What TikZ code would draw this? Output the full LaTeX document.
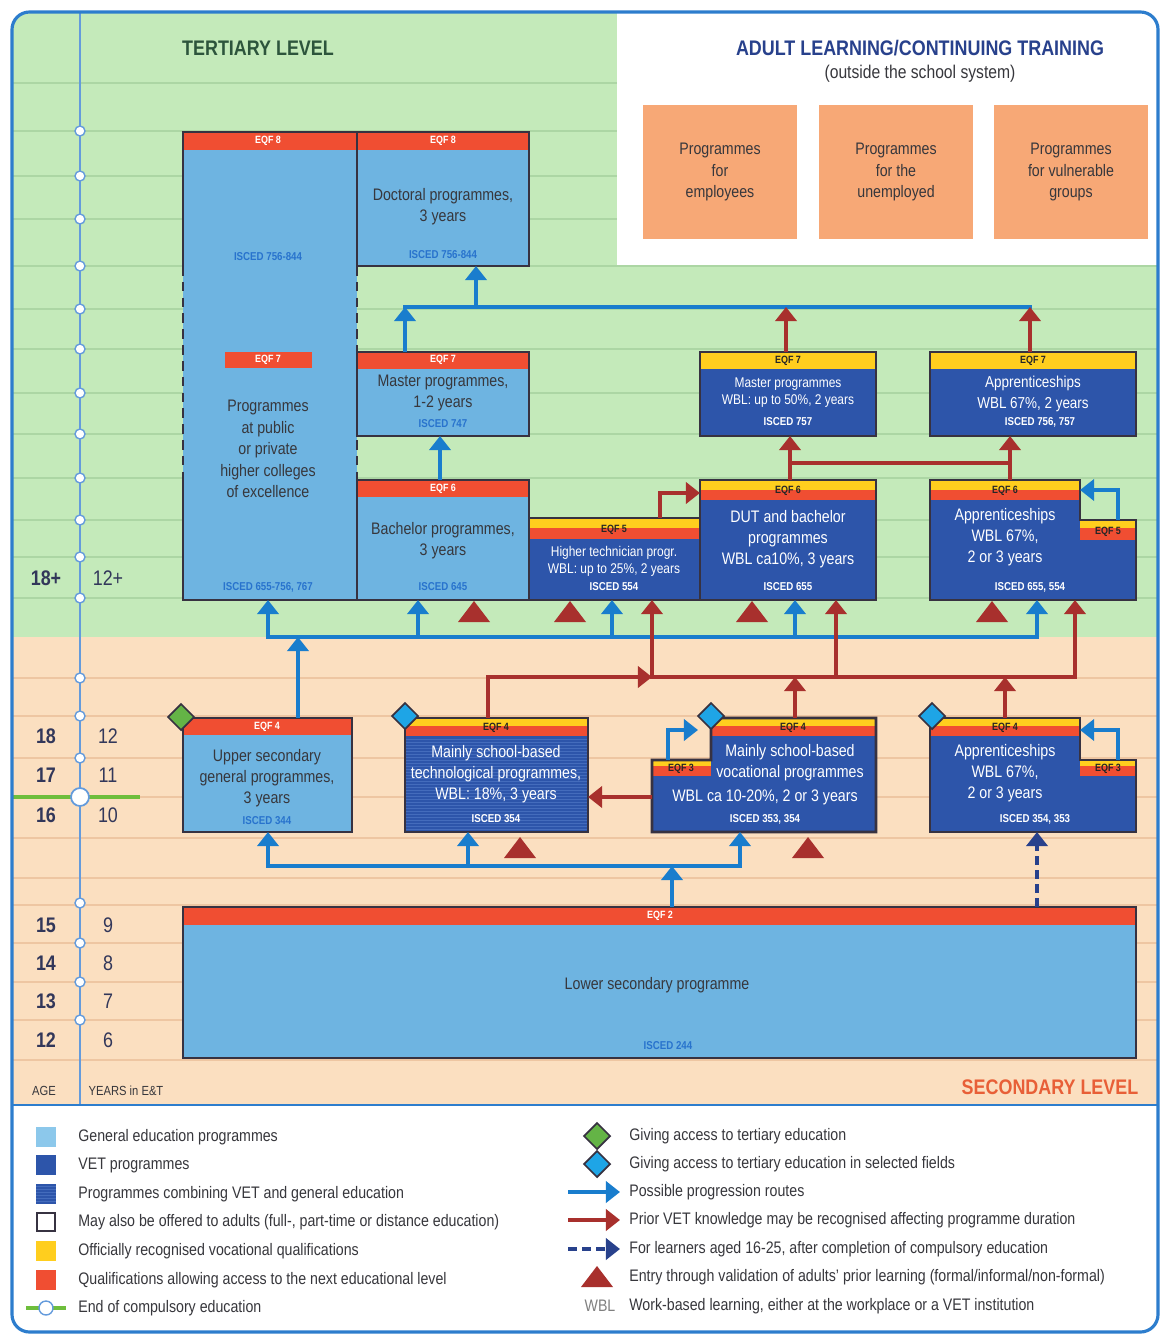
\documentclass[tikz,border=0pt]{standalone}
\usepackage{fontspec}
\setmainfont{Liberation Sans}[FakeStretch=0.85]
\usetikzlibrary{arrows.meta,fit}

\definecolor{tgreen}{RGB}{196,234,186}
\definecolor{speach}{RGB}{251,223,192}
\definecolor{rowgreen}{RGB}{172,214,164}
\definecolor{rowpeach}{RGB}{238,198,162}
\definecolor{genblue}{RGB}{110,180,225}
\definecolor{vetblue}{RGB}{45,85,170}
\definecolor{stripebl}{RGB}{68,108,188}
\definecolor{boxdark}{RGB}{55,50,65}
\definecolor{eqfred}{RGB}{240,78,50}
\definecolor{eqfyel}{RGB}{255,206,30}
\definecolor{arrblue}{RGB}{25,125,205}
\definecolor{arrred}{RGB}{168,48,45}
\definecolor{adultor}{RGB}{247,168,118}
\definecolor{framebl}{RGB}{45,125,205}
\definecolor{axisbl}{RGB}{100,155,220}
\definecolor{titgreen}{RGB}{45,85,60}
\definecolor{titblue}{RGB}{40,65,140}
\definecolor{titred}{RGB}{232,95,55}
\definecolor{iscblue}{RGB}{40,115,205}
\definecolor{txtgray}{RGB}{55,55,60}
\definecolor{dgreen}{RGB}{100,180,70}
\definecolor{dblue}{RGB}{30,165,230}
\definecolor{leglight}{RGB}{140,200,235}
\definecolor{complgreen}{RGB}{110,190,60}
\definecolor{agecol}{RGB}{50,55,90}

\tikzset{
  genbox/.style={fill=genblue, inner sep=0pt, outer sep=0pt},
  vetbox/.style={fill=vetblue, inner sep=0pt, outer sep=0pt},
  boxline/.style={draw=boxdark, line width=1.6pt},
  boxtxt/.style={font=\fontsize{9.5}{12}\selectfont, text=txtgray, align=center, inner sep=0pt},
  vettxt/.style={boxtxt, text=white},
  vetsmall/.style={vettxt, font=\fontsize{8}{9.6}\selectfont},
  eqfw/.style={font=\fontsize{6}{7}\selectfont\bfseries, text=white, inner sep=0pt},
  eqfd/.style={eqfw, text=black!85},
  isced/.style={font=\fontsize{6.5}{7}\selectfont\bfseries, text=iscblue, inner sep=0pt},
  iscedw/.style={isced, text=white},
  adultbox/.style={fill=adultor, minimum width=3.08cm, minimum height=2.7cm, align=center,
    font=\fontsize{9.5}{12}\selectfont, text=txtgray},
  agelab/.style={font=\fontsize{12}{14}\selectfont\bfseries, text=agecol},
  yrlab/.style={font=\fontsize{12}{14}\selectfont, text=agecol},
  legtxt/.style={anchor=west, font=\fontsize{9.5}{11}\selectfont, text=txtgray, inner sep=0pt},
  barrow/.style={->, draw=arrblue, line width=2.4pt},
  bline/.style={draw=arrblue, line width=2.4pt, line cap=rect},
  rarrow/.style={->, draw=arrred, line width=2.4pt},
  rline/.style={draw=arrred, line width=2.4pt, line cap=rect},
  darrow/.style={->, draw=titblue, line width=2.4pt, dash pattern=on 5pt off 3pt},
  stripe/.style={draw=stripebl, line width=0.35pt}
}

\begin{document}
\begin{tikzpicture}[x=0.02cm, y=-0.02cm, >={Triangle[length=8pt,width=12pt]}]
\useasboundingbox (0,0) rectangle (1161,1335);

% backgrounds and rows
\begin{scope}
  \clip[rounded corners=0.35cm] (12,12) rectangle (1158,1332);
  \fill[tgreen] (12,12) rectangle (1158,637);
  \fill[speach] (12,637) rectangle (1158,1105);
  \fill[white] (12,1105) rectangle (1158,1332);
  \foreach \y in {83,131,176,219,266,309,349,393,434,478,520,557,598}
    \draw[rowgreen, line width=0.6pt] (12,\y) -- (1158,\y);
  \foreach \y in {678,716,758,797,838,878,905,943,982,1020,1060}
    \draw[rowpeach, line width=0.6pt] (12,\y) -- (1158,\y);
  \fill[white] (617,12) rectangle (1158,265);
\end{scope}

% age axis
\draw[axisbl, line width=1pt] (80,12) -- (80,1105);
\foreach \y in {131,176,219,266,309,349,393,434,478,520,557,598,678,716,758,903,943,982,1020}
  \filldraw[fill=white, draw=axisbl, line width=0.8pt] (80,\y) circle (0.1cm);
\draw[complgreen, line width=2.2pt] (12,797) -- (140,797);
\filldraw[fill=white, draw=axisbl, line width=1pt] (80,797) circle (0.18cm);

\draw[framebl, line width=1.8pt, rounded corners=0.35cm] (12,12) rectangle (1158,1332);
\draw[framebl, line width=1pt] (12,1105) -- (1158,1105);

% titles
\node[font=\fontsize{12}{14}\selectfont\bfseries, text=titgreen] (tert) at (258,48) {TERTIARY LEVEL};
\node[font=\fontsize{12}{14}\selectfont\bfseries, text=titblue] (adult) at (920,48) {ADULT LEARNING/CONTINUING TRAINING};
\node[font=\fontsize{10.5}{12}\selectfont, text=txtgray] (adultsub) at (920,74) {(outside the school system)};
\node[font=\fontsize{12}{14}\selectfont\bfseries, text=titred] (seclev) at (1050,1087) {SECONDARY LEVEL};

\node[adultbox] (adempl) at (720,172) {Programmes\\for\\employees};
\node[adultbox] (adunem) at (896,172) {Programmes\\for the\\unemployed};
\node[adultbox] (advuln) at (1071,172) {Programmes\\for vulnerable\\groups};

% ages and years
\foreach \y/\a/\n in {578/18+/12+, 736/18/12, 775/17/11, 815/16/10, 925/15/9, 963/14/8, 1001/13/7, 1040/12/6}{
  \node[agelab] (age\y) at (46,\y) {\a};
  \node[yrlab] (yr\y) at (108,\y) {\n};
}
\node[font=\fontsize{7.5}{9}\selectfont, text=txtgray] (agehd) at (44,1091) {AGE};
\node[font=\fontsize{7.5}{9}\selectfont, text=txtgray] (yrhd) at (126,1091) {YEARS in E\&T};

% tertiary boxes
\node[genbox, fit={(183,132) (357,600)}] (hcol) {};
\node[genbox, fit={(357,132) (529,266)}] (doct) {};
\node[genbox, fit={(357,352) (529,436)}] (mastg) {};
\node[genbox, fit={(357,480) (529,600)}] (bach) {};
\node[vetbox, fit={(529,518) (700,600)}] (htech) {};
\node[vetbox, fit={(700,480) (876,600)}] (dut) {};
\node[vetbox, fit={(700,352) (876,436)}] (mastv) {};
\node[vetbox, fit={(930,352) (1136,436)}] (appr7) {};
\node[vetbox, fit={(930,480) (1080,600)}] (appr6) {};
\node[vetbox, fit={(1080,520) (1136,600)}] (appr6s) {};

\fill[eqfred] (183,132) rectangle (529,150);
\fill[eqfred] (225,352) rectangle (312,368);
\fill[eqfred] (357,352) rectangle (529,369);
\fill[eqfred] (357,480) rectangle (529,497);
\fill[eqfyel] (529,518) rectangle (700,528);
\fill[eqfred] (529,528) rectangle (700,539);
\fill[eqfyel] (700,480) rectangle (876,490);
\fill[eqfred] (700,490) rectangle (876,500);
\fill[eqfyel] (700,352) rectangle (876,369);
\fill[eqfyel] (930,352) rectangle (1136,369);
\fill[eqfyel] (930,480) rectangle (1080,490);
\fill[eqfred] (930,490) rectangle (1080,500);
\fill[eqfyel] (1080,520) rectangle (1136,528);
\fill[eqfred] (1080,528) rectangle (1136,540);

\node[eqfw] (hcol-q) at (268,141) {EQF 8};
\node[isced] (hcol-i1) at (268,257) {ISCED 756-844};
\node[eqfw] (hcol-q7) at (268,360) {EQF 7};
\node[boxtxt, font=\fontsize{9.5}{12.2}\selectfont] (hcol-t) at (268,449) {Programmes\\at public\\or private\\higher colleges\\of excellence};
\node[isced] (hcol-i2) at (268,587) {ISCED 655-756, 767};

\node[eqfw] (doct-q) at (443,141) {EQF 8};
\node[boxtxt] (doct-t) at (443,207) {Doctoral programmes,\\3 years};
\node[isced] (doct-i) at (443,255) {ISCED 756-844};

\node[eqfw] (mastg-q) at (443,360) {EQF 7};
\node[boxtxt] (mastg-t) at (443,393) {Master programmes,\\1-2 years};
\node[isced] (mastg-i) at (443,424) {ISCED 747};

\node[eqfw] (bach-q) at (443,489) {EQF 6};
\node[boxtxt] (bach-t) at (443,541) {Bachelor programmes,\\3 years};
\node[isced] (bach-i) at (443,587) {ISCED 645};

\node[eqfd] (htech-q) at (614,530) {EQF 5};
\node[vetsmall] (htech-t) at (614,561) {Higher technician progr.\\WBL: up to 25\%, 2 years};
\node[iscedw] (htech-i) at (614,587) {ISCED 554};

\node[eqfd] (dut-q) at (788,491) {EQF 6};
\node[vettxt] (dut-t) at (788,539) {DUT and bachelor\\programmes\\WBL ca10\%, 3 years};
\node[iscedw] (dut-i) at (788,587) {ISCED 655};

\node[eqfd] (mastv-q) at (788,361) {EQF 7};
\node[vetsmall] (mastv-t) at (788,393) {Master programmes\\WBL: up to 50\%, 2 years};
\node[iscedw] (mastv-i) at (788,422) {ISCED 757};

\node[eqfd] (appr7-q) at (1033,361) {EQF 7};
\node[vettxt, font=\fontsize{9}{11.5}\selectfont] (appr7-t) at (1033,394) {Apprenticeships\\WBL 67\%, 2 years};
\node[iscedw] (appr7-i) at (1040,422) {ISCED 756, 757};

\node[eqfd] (appr6-q) at (1005,491) {EQF 6};
\node[eqfd] (appr6-q5) at (1108,532) {EQF 5};
\node[vettxt] (appr6-t) at (1005,537) {Apprenticeships\\WBL 67\%,\\2 or 3 years};
\node[iscedw] (appr6-i) at (1030,587) {ISCED 655, 554};

% secondary boxes
\node[genbox, fit={(183,718) (352,832)}] (upsec) {};
\node[vetbox, fit={(405,718) (588,832)}] (techn) {};
\node[vetbox, fit={(711,718) (876,832)}] (vocm) {};
\node[vetbox, fit={(652,760) (711,832)}] (vocs) {};
\node[vetbox, fit={(930,718) (1080,832)}] (appr4) {};
\node[vetbox, fit={(1080,760) (1136,832)}] (appr4s) {};
\node[genbox, fit={(183,907) (1136,1058)}] (lowsec) {};

\foreach \y in {739,742,...,830}
  \draw[stripe] (405,\y) -- (588,\y);

\fill[eqfred] (183,718) rectangle (352,735);
\foreach \xa/\xb in {405/588, 711/876, 930/1080}{
  \fill[eqfyel] (\xa,718) rectangle (\xb,726);
  \fill[eqfred] (\xa,726) rectangle (\xb,736);
}
\foreach \xa/\xb in {652/711, 1080/1136}{
  \fill[eqfyel] (\xa,760) rectangle (\xb,766);
  \fill[eqfred] (\xa,766) rectangle (\xb,776);
}
\fill[eqfred] (183,907) rectangle (1136,925);

\node[eqfw] (upsec-q) at (267,727) {EQF 4};
\node[boxtxt, font=\fontsize{9.5}{11.8}\selectfont] (upsec-t) at (267,778) {Upper secondary\\general programmes,\\3 years};
\node[isced] (upsec-i) at (267,821) {ISCED 344};

\node[eqfd] (techn-q) at (496,728) {EQF 4};
\node[vettxt] (techn-t) at (496,774) {Mainly school-based\\technological programmes,\\WBL: 18\%, 3 years};
\node[iscedw] (techn-i) at (496,819) {ISCED 354};

\node[eqfd] (voc-q) at (793,728) {EQF 4};
\node[eqfd] (voc-q3) at (681,769) {EQF 3};
\node[vettxt] (voc-t) at (790,763) {Mainly school-based\\vocational programmes};
\node[vettxt] (voc-t2) at (765,797) {WBL ca 10-20\%, 2 or 3 years};
\node[iscedw] (voc-i) at (765,819) {ISCED 353, 354};

\node[eqfd] (appr4-q) at (1005,728) {EQF 4};
\node[eqfd] (appr4-q3) at (1108,769) {EQF 3};
\node[vettxt] (appr4-t) at (1005,773) {Apprenticeships\\WBL 67\%,\\2 or 3 years};
\node[iscedw] (appr4-i) at (1035,819) {ISCED 354, 353};

\node[eqfw] (lowsec-q) at (660,916) {EQF 2};
\node[boxtxt] (lowsec-t) at (657,985) {Lower secondary programme};
\node[isced] (lowsec-i) at (668,1046) {ISCED 244};

% borders
\foreach \n in {doct,mastg,bach,htech,dut,mastv,appr7,upsec,techn,lowsec}
  \draw[boxline] (\n.north west) rectangle (\n.south east);
\draw[boxline] (183,266) -- (hcol.north west) -- (hcol.north east) -- (357,266);
\draw[boxline, dash pattern=on 5.5pt off 3.5pt] (183,266) -- (183,480);
\draw[boxline, dash pattern=on 5.5pt off 3.5pt] (357,266) -- (357,480);
\draw[boxline] (183,480) -- (hcol.south west) -- (hcol.south east);
\draw[boxline] (appr6.north west) -- (appr6.north east) -- (appr6s.north west) -- (appr6s.north east)
  -- (appr6s.south east) -- (appr6.south west) -- cycle;
\draw[boxline] (vocs.north west) -- (vocs.north east) -- (vocm.north west) -- (vocm.north east)
  -- (vocm.south east) -- (vocs.south west) -- cycle;
\draw[boxline] (appr4.north west) -- (appr4.north east) -- (appr4s.north west) -- (appr4s.north east)
  -- (appr4s.south east) -- (appr4.south west) -- cycle;

% routes
\coordinate (busA) at (0,307);
\coordinate (busB) at (0,637);
\coordinate (busC) at (0,866);
\coordinate (busR) at (0,677);
\coordinate (busR2) at (0,463);

\draw[bline] (405,0 |- busA) -- (1030,0 |- busA);
\draw[barrow] (405,0 |- mastg.north) -- (405,0 |- busA);
\draw[barrow] (476,0 |- busA) -- (476,0 |- doct.south);
\draw[barrow] (440,0 |- bach.north) -- (440,0 |- mastg.south);
\draw[rarrow] (786,0 |- mastv.north) -- (786,0 |- busA);
\draw[rarrow] (1030,0 |- appr7.north) -- (1030,0 |- busA);

\draw[rline] (790,0 |- busR2) -- (1010,0 |- busR2);
\draw[rarrow] (790,0 |- dut.north) -- (790,0 |- mastv.south);
\draw[rarrow] (1010,0 |- appr6.north) -- (1010,0 |- appr7.south);
\draw[rarrow] (660,0 |- htech.north) |- (dut.west |- 0,493);
\draw[barrow] (1118,0 |- appr6s.north) |- (appr6.east |- 0,490);

\draw[bline] (268,0 |- busB) -- (1037,0 |- busB);
\foreach \x/\n in {268/hcol, 418/bach, 612/htech, 795/dut, 1037/appr6}
  \draw[barrow] (\x,0 |- busB) -- (\x,0 |- \n.south);
\draw[barrow] (298,0 |- upsec.north) -- (298,0 |- busB);

\draw[rline] (652,0 |- busR) -- (1075,0 |- busR);
\draw[rarrow] (488,0 |- techn.north) |- (652,0 |- busR);
\foreach \x/\n in {652/htech, 836/dut, 1075/appr6s}
  \draw[rarrow] (\x,0 |- busR) -- (\x,0 |- \n.south);
\draw[rarrow] (795,0 |- vocm.north) -- (795,0 |- busR);
\draw[rarrow] (1005,0 |- appr4.north) -- (1005,0 |- busR);
\draw[rarrow] (vocs.west |- 0,797) -- (techn.east |- 0,797);

\draw[bline] (268,0 |- busC) -- (740,0 |- busC);
\foreach \x/\n in {268/upsec, 468/techn, 740/vocm}
  \draw[barrow] (\x,0 |- busC) -- (\x,0 |- \n.south);
\draw[barrow] (672,0 |- lowsec.north) -- (672,0 |- busC);
\draw[barrow] (668,0 |- vocs.north) |- (698,730);
\draw[barrow] (1118,0 |- appr4s.north) |- (appr4.east |- 0,730);
\draw[darrow] (1037,0 |- lowsec.north) -- (1037,0 |- appr4.south);

% validation triangles and access diamonds
\foreach \x/\y in {474/622, 570/622, 752/622, 992/622, 520/858, 808/858, 597/1287}
  \fill[arrred] (\x-16,\y) -- (\x+16,\y) -- (\x,\y-21) -- cycle;
\foreach \x/\y/\c in {181/717/dgreen, 405/716/dblue, 711/716/dblue, 932/716/dblue, 597/1136/dgreen, 597/1164/dblue}
  \filldraw[fill=\c, draw=boxdark, line width=1pt] (\x-13,\y) -- (\x,\y-13) -- (\x+13,\y) -- (\x,\y+13) -- cycle;

% legend
\foreach \y/\c in {1137/leglight, 1165/vetblue, 1251/eqfyel, 1280/eqfred}
  \fill[\c] (36,\y-10) rectangle (56,\y+10);
\fill[vetblue] (36,1184) rectangle (56,1204);
\foreach \y in {1186,1189,...,1202}
  \draw[stripe] (36,\y) -- (56,\y);
\draw[boxdark, line width=1.2pt, fill=white] (37,1213) rectangle (55,1231);
\draw[complgreen, line width=2pt] (26,1308) -- (66,1308);
\filldraw[fill=white, draw=axisbl, line width=0.8pt] (46,1308) circle (0.14cm);

\node[legtxt] (lg1) at (78,1137) {General education programmes};
\node[legtxt] (lg2) at (78,1165) {VET programmes};
\node[legtxt] (lg3) at (78,1194) {Programmes combining VET and general education};
\node[legtxt] (lg4) at (78,1222) {May also be offered to adults (full-, part-time or distance education)};
\node[legtxt] (lg5) at (78,1251) {Officially recognised vocational qualifications};
\node[legtxt] (lg6) at (78,1280) {Qualifications allowing access to the next educational level};
\node[legtxt] (lg7) at (78,1308) {End of compulsory education};

\coordinate (lb1) at (568,1192); \coordinate (le1) at (620,1192);
\coordinate (lb2) at (568,1220); \coordinate (le2) at (620,1220);
\coordinate (lb3) at (568,1249); \coordinate (le3) at (620,1249);
\draw[barrow] (lb1) -- (le1);
\draw[rarrow] (lb2) -- (le2);
\draw[darrow] (lb3) -- (le3);
\node[font=\fontsize{9.5}{11}\selectfont, text=gray] (lgwbl) at (600,1306) {WBL};

\node[legtxt] (lr1) at (629,1136) {Giving access to tertiary education};
\node[legtxt] (lr2) at (629,1164) {Giving access to tertiary education in selected fields};
\node[legtxt] (lr3) at (629,1192) {Possible progression routes};
\node[legtxt] (lr4) at (629,1220) {Prior VET knowledge may be recognised affecting programme duration};
\node[legtxt] (lr5) at (629,1249) {For learners aged 16-25, after completion of compulsory education};
\node[legtxt] (lr6) at (629,1277) {Entry through validation of adults' prior learning (formal/informal/non-formal)};
\node[legtxt] (lr7) at (629,1306) {Work-based learning, either at the workplace or a VET institution};
\end{tikzpicture}
\end{document}
